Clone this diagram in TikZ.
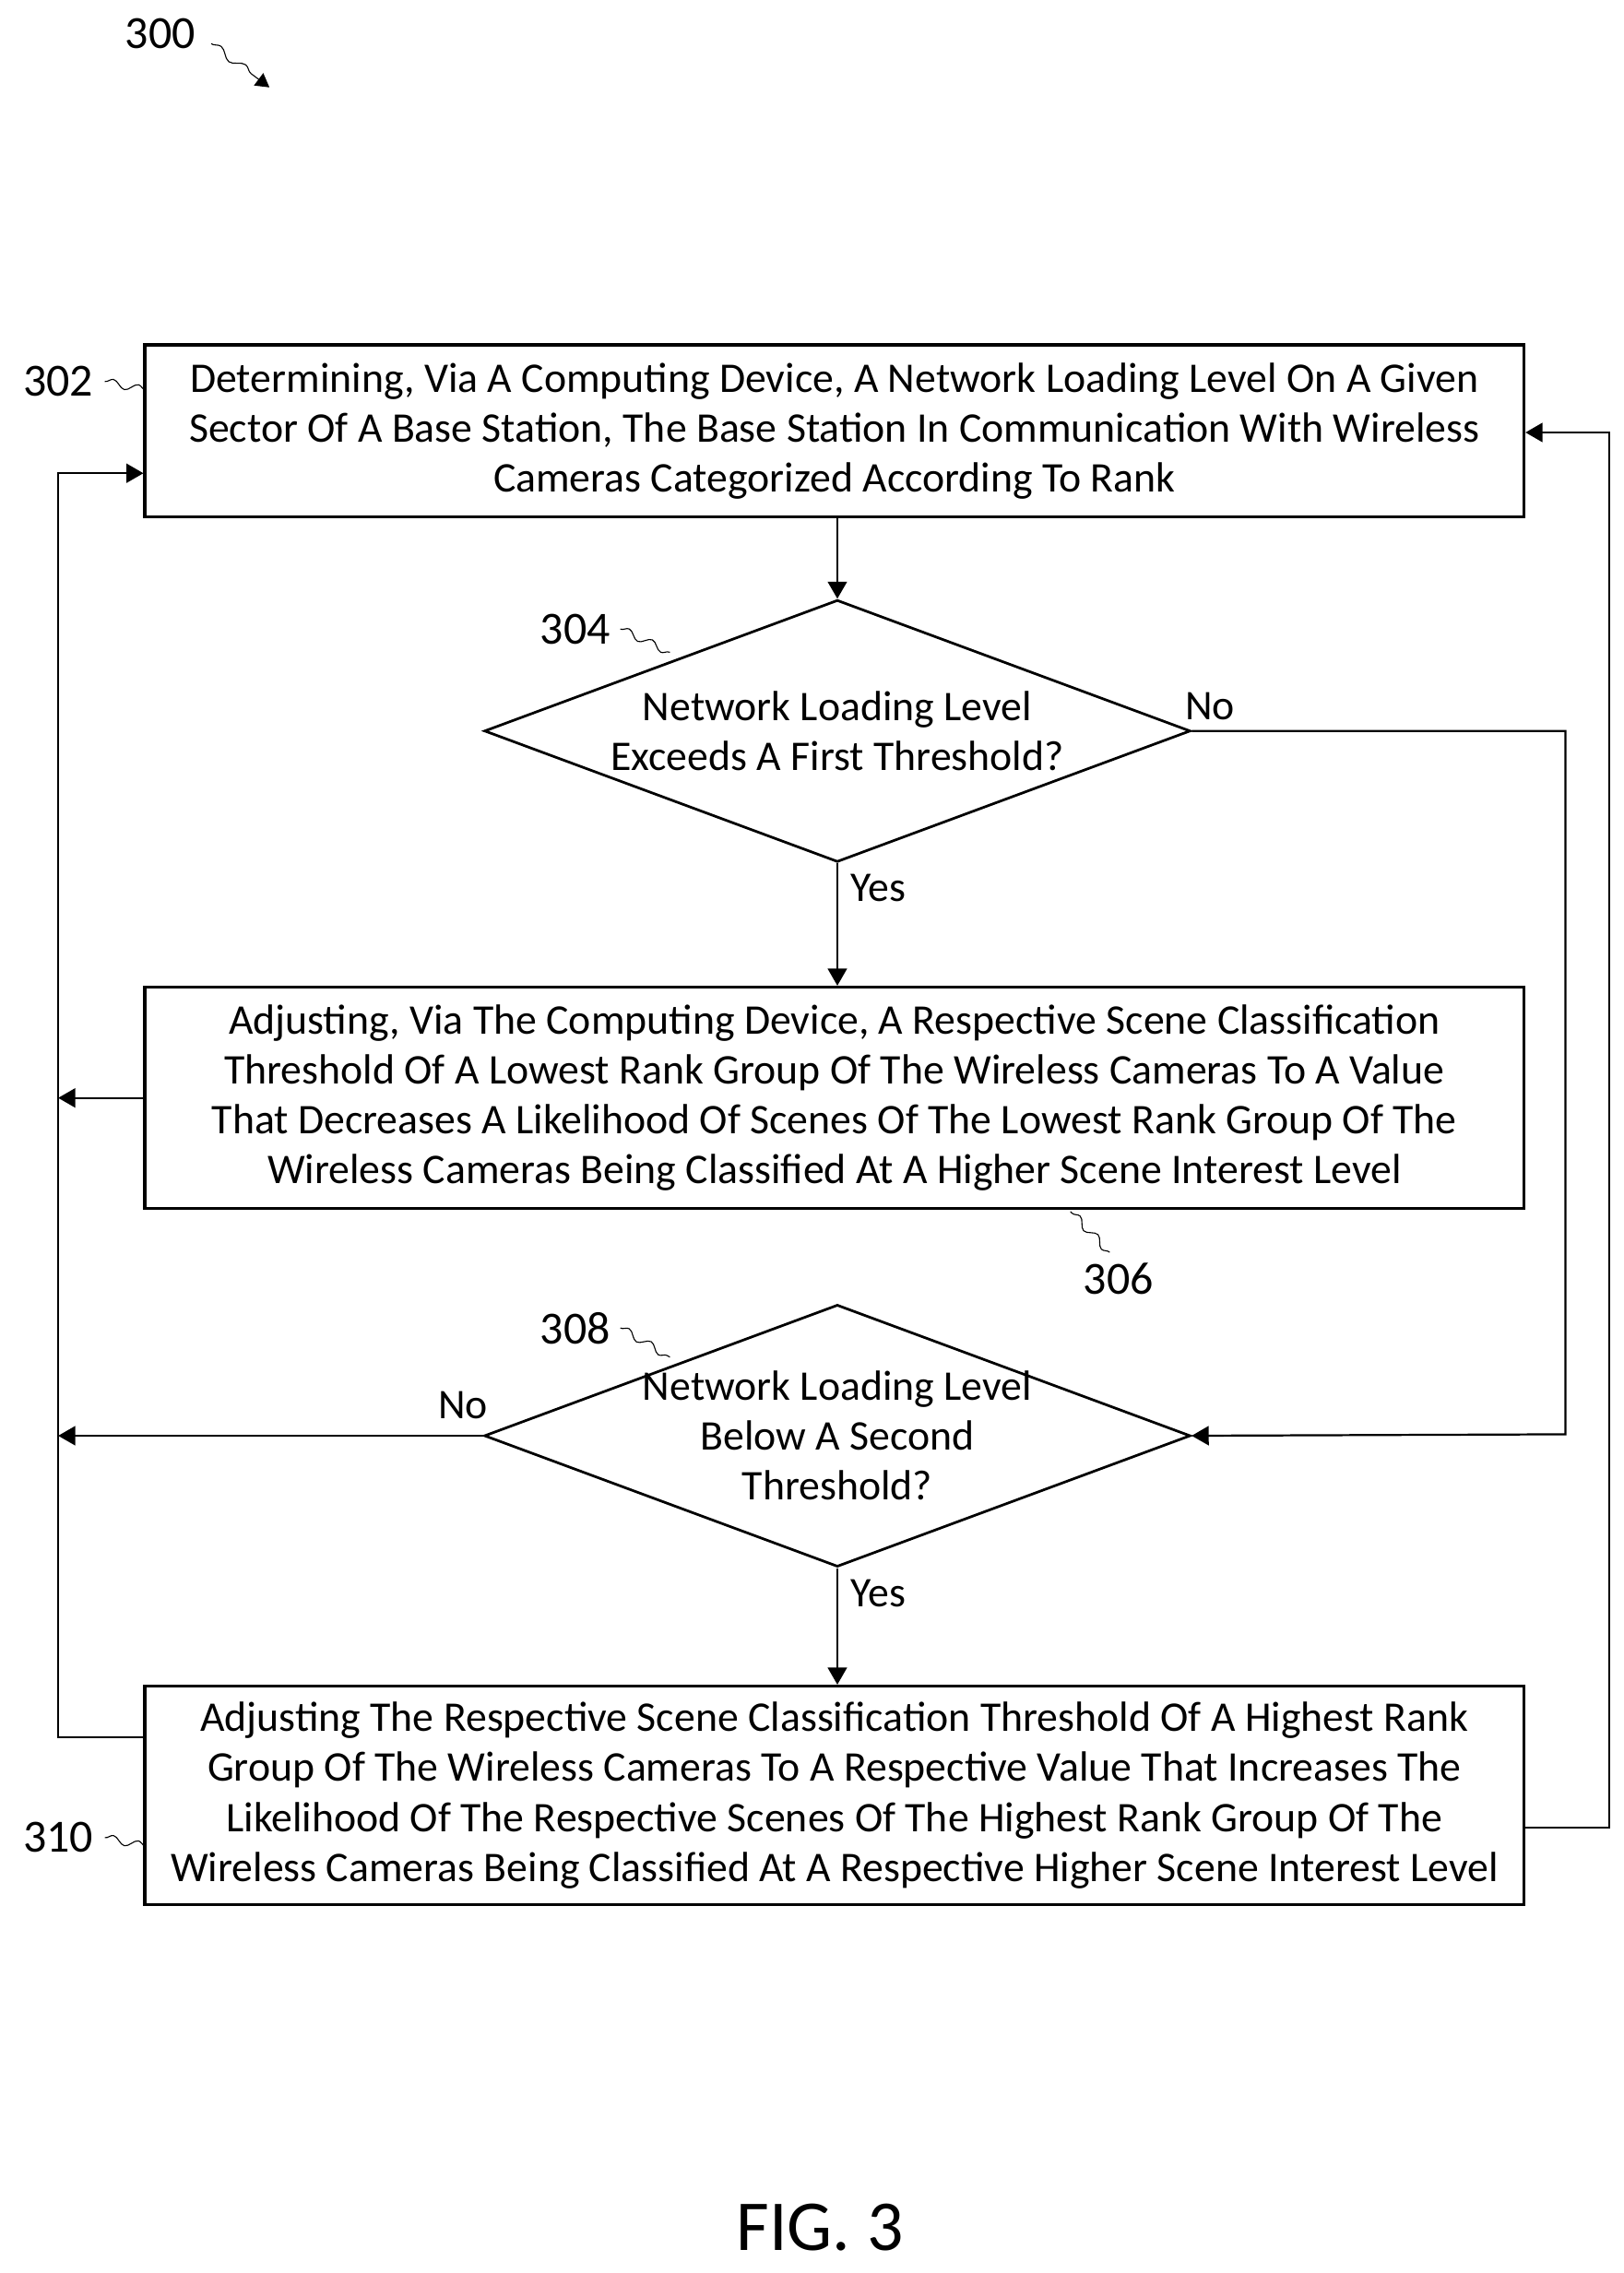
\documentclass[tikz,border=0pt]{standalone}
\usepackage{fontspec}
\setmainfont{Carlito}
\usetikzlibrary{arrows,shapes.geometric,decorations.pathmorphing}
\begin{document}
\begin{tikzpicture}[x=0.02cm,y=-0.02cm, >=triangle 60,
  every node/.style={font=\fontsize{16.5}{19.5}\selectfont},
  step/.style={draw,line width=1.3pt,minimum width=18.94cm,minimum height=#1,align=center,inner sep=2pt},
  test/.style={draw,diamond,aspect=2.7,line width=1pt,minimum width=9.7cm,minimum height=3.6cm,inner sep=0pt,align=center},
  flow/.style={->,line width=0.8pt},
  refnum/.style={font=\fontsize{18}{20}\selectfont}]
 \useasboundingbox (0,0) rectangle (1115,1561);
 % steps
 \node [step=2.36cm] (s302) at (573,296) {Determining, Via A Computing Device, A Network Loading Level On A Given\\Sector Of A Base Station, The Base Station In Communication With Wireless\\Cameras Categorized According To Rank};
 \node [test] (d304) at (575,502) {Network Loading Level\\Exceeds A First Threshold?};
 \node [step=3.04cm] (s306) at (573,754) {Adjusting, Via The Computing Device, A Respective Scene Classification\\Threshold Of A Lowest Rank Group Of The Wireless Cameras To A Value\\That Decreases A Likelihood Of Scenes Of The Lowest Rank Group Of The\\Wireless Cameras Being Classified At A Higher Scene Interest Level};
 \node [test,inner sep=-5.5pt] (d308) at (575,986) {Network Loading Level\\Below A Second\\Threshold?};
 \node [step=3.0cm] (s310) at (573,1233) {Adjusting The Respective Scene Classification Threshold Of A Highest Rank\\Group Of The Wireless Cameras To A Respective Value That Increases The\\Likelihood Of The Respective Scenes Of The Highest Rank Group Of The\\Wireless Cameras Being Classified At A Respective Higher Scene Interest Level};
 % connectors
 \coordinate (lft) at (40,1193);
 \coordinate (rgt) at (1105,1255);
 \draw [flow] (s302.south -| d304.north) -- (d304.north);
 \draw [flow] (d304.south) -- (s306.north -| d304.south);
 \draw [flow] (d308.south) -- (s310.north -| d308.south);
 \draw [flow] (d304.east) -- (1075,502) -- (1075,985) -- (d308.east);
 \draw [flow] (s306.west) -- (s306.west -| lft);
 \draw [flow] (d308.west) -- (d308.west -| lft);
 \draw [flow] (s310.west |- lft) -- (lft) -- (40,325) -- (s302.west |- 0,325);
 \draw [flow] (s310.east |- rgt) -- (rgt) -- (1105,297) -- (s302.east |- 0,297);
 \node (no1) at (831,485) {No};
 \node (yes1) at (603,610) {Yes};
 \node (no2) at (318,965) {No};
 \node (yes2) at (603,1094) {Yes};
 % reference numerals
 \node [refnum] (n300) at (110,23) {300};
 \draw [->,decorate,decoration={snake,amplitude=1.5pt,segment length=12pt,post length=6pt}] (145,30) -- (185,60);
 \node [refnum] (n302) at (40,262) {302};
 \draw [decorate,decoration={snake,amplitude=1.5pt,segment length=10pt}] (72,262) -- (100,268);
 \node [refnum] (n304) at (395,432) {304};
 \draw [decorate,decoration={snake,amplitude=1.5pt,segment length=10pt}] (426,432) -- (460,448);
 \node [refnum] (n306) at (768,878) {306};
 \draw [decorate,decoration={snake,amplitude=1.5pt,segment length=10pt}] (762,860) -- (735,832);
 \node [refnum] (n308) at (395,912) {308};
 \draw [decorate,decoration={snake,amplitude=1.5pt,segment length=10pt}] (426,912) -- (460,932);
 \node [refnum] (n310) at (40,1262) {310};
 \draw [decorate,decoration={snake,amplitude=1.5pt,segment length=10pt}] (72,1262) -- (100,1268);
 \node [font=\fontsize{28}{30}\selectfont] (fig) at (563,1530) {FIG. 3};
\end{tikzpicture}
\end{document}
